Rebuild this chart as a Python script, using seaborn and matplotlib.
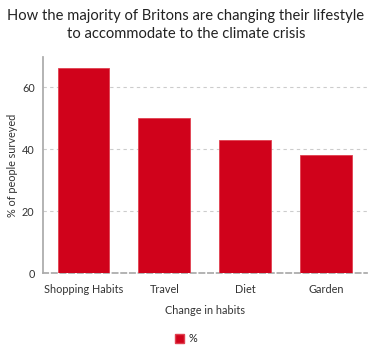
import matplotlib
matplotlib.use("Agg")
import matplotlib.pyplot as plt
import seaborn as sns
import pandas as pd
from matplotlib.patches import Patch

categories = ["Shopping Habits", "Travel", "Diet", "Garden"]
values = [66, 50, 43, 38]
yticks = [0, 20, 40, 60]

sns.set_theme(style="white")
plt.rcParams['font.family'] = ['Lato', 'DejaVu Sans']

df = pd.DataFrame({"cat": categories, "val": values})
fig = plt.figure(figsize=(3.72, 3.49), dpi=100)
ax = fig.add_axes([43/372, 1-273/349, (366.5-43)/372, (273-57)/349])
sns.barplot(data=df, x="cat", y="val", color="#d0021b", width=0.64,
            saturation=1, ax=ax, edgecolor="#e04050", linewidth=0.6, zorder=3)
ax.set_ylim(0, 69.7)
ax.set_xlim(-0.5, 3.5)
ax.set_yticks(yticks)
ax.yaxis.grid(True, linestyle=(0, (3, 3)), color="#cccccc", linewidth=0.8, zorder=0)
ax.set_axisbelow(True)
for s in ["top", "right"]:
    ax.spines[s].set_visible(False)
ax.spines["left"].set_color("#aaaaaa")
ax.spines["bottom"].set_color("#aaaaaa")
ax.spines["bottom"].set_linestyle((0, (3, 2)))
ax.tick_params(axis="x", labelsize=7.8, colors="#333333", length=0, pad=8)
ax.tick_params(axis="y", labelsize=7.8, colors="#333333", length=0, pad=6)
ax.set_xlabel("Change in habits", fontsize=7.8, color="#333333", labelpad=7)
ax.set_ylabel("% of people surveyed", fontsize=7.8, color="#333333", labelpad=3)
fig.suptitle("How the majority of Britons are changing their lifestyle\nto accommodate to the climate crisis",
             fontsize=10.6, color="#222222", y=0.975, linespacing=1.4)
fig.legend(handles=[Patch(facecolor="#d0021b", edgecolor="#e04050", label="%")],
           loc="center", bbox_to_anchor=(0.5, 1-339/349), frameon=False,
           fontsize=7.8, handlelength=0.9, handleheight=0.9, handletextpad=0.4)
fig.savefig("out.png", dpi=100)
